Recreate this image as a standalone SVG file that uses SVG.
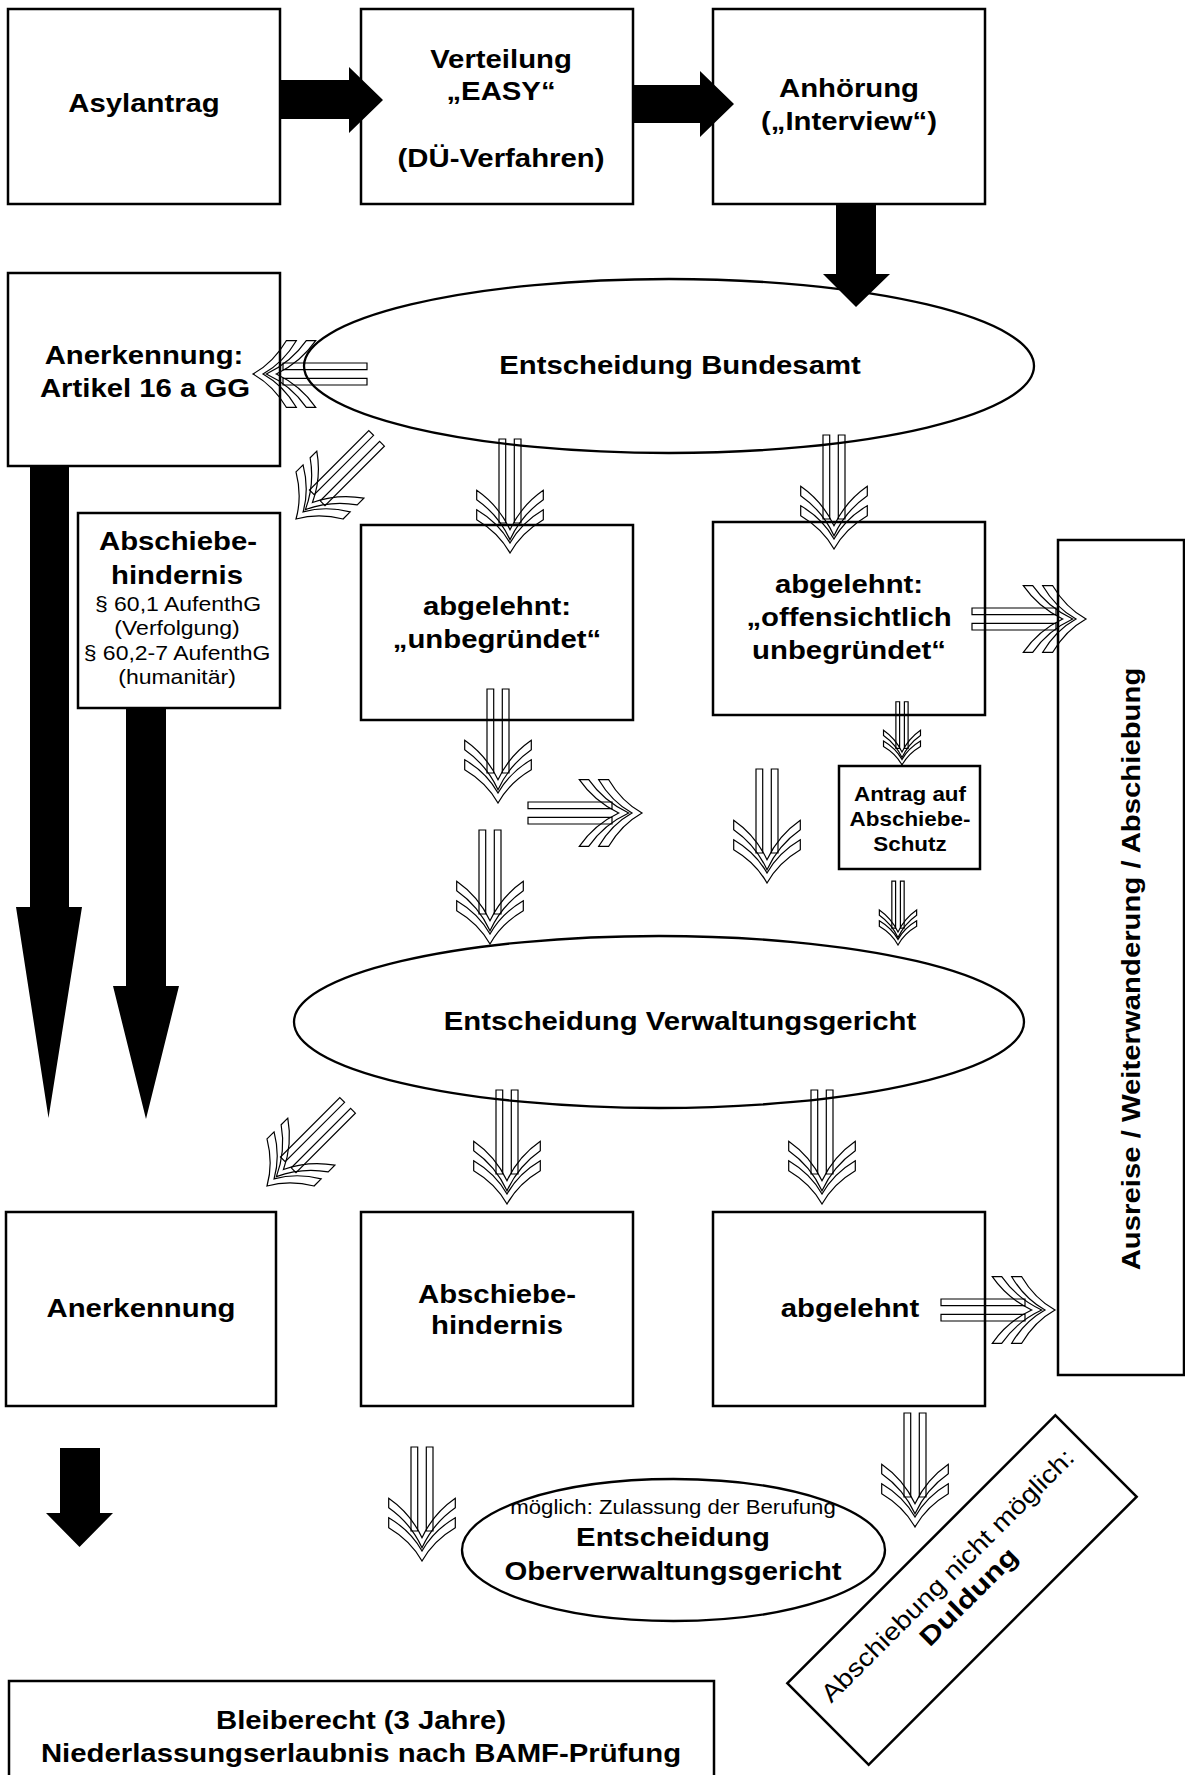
<svg xmlns="http://www.w3.org/2000/svg" xmlns:xlink="http://www.w3.org/1999/xlink" width="1185" height="1775" viewBox="0 0 1185 1775">
<style>
.box{fill:#fff;stroke:#000;stroke-width:2.5}
.ell{fill:none;stroke:#000;stroke-width:2.3}
.b{font-family:"Liberation Sans",Arial,sans-serif;font-weight:700;font-size:25.5px;text-anchor:middle;fill:#000}
.bs{font-family:"Liberation Sans",Arial,sans-serif;font-weight:700;font-size:19.5px;text-anchor:middle;fill:#000}
.r{font-family:"Liberation Sans",Arial,sans-serif;font-weight:400;font-size:20px;text-anchor:middle;fill:#000}
.solid{fill:#000;stroke:none}
.ha *{fill:none;stroke:#000;stroke-width:1.2;vector-effect:non-scaling-stroke}
</style>
<defs>
<g id="ha" class="ha">
<rect x="-11" y="-114" width="6.7" height="84"/>
<rect x="4.3" y="-114" width="6.7" height="84"/>
<path d="M-33.3,-43.3 L-33.3,-33.3 Q-11.4,-20.4 0,0 Q11.4,-20.4 33.3,-33.3 L33.3,-43.3 Q11.4,-30.4 0,-10 Q-11.4,-30.4 -33.3,-43.3Z"/>
<path d="M-33.3,-62.7 L-33.3,-53.3 Q-11.4,-38 0,-13.3 Q11.4,-38 33.3,-53.3 L33.3,-62.7 Q11.4,-47.5 0,-23.3 Q-11.4,-47.5 -33.3,-62.7Z"/>
</g>
</defs>
<rect width="1185" height="1775" fill="#fff"/>

<g id="n-asylantrag">
<rect class="box" x="8" y="9" width="272" height="195"/>
<text class="b" transform="matrix(1.15 0 0 1 144 112)">Asylantrag</text>
</g>
<g id="n-verteilung">
<rect class="box" x="361" y="9" width="272" height="195"/>
<text class="b" transform="matrix(1.15 0 0 1 501 68)">Verteilung</text>
<text class="b" transform="matrix(1.15 0 0 1 501 100)">„EASY“</text>
<text class="b" transform="matrix(1.15 0 0 1 501 167)">(DÜ-Verfahren)</text>
</g>
<g id="n-anhoerung">
<rect class="box" x="713" y="9" width="272" height="195"/>
<text class="b" transform="matrix(1.15 0 0 1 849 97)">Anhörung</text>
<text class="b" transform="matrix(1.15 0 0 1 849 130)">(„Interview“)</text>
</g>
<g id="n-bundesamt">
<ellipse class="ell" cx="669" cy="366" rx="365" ry="87"/>
<text class="b" transform="matrix(1.15 0 0 1 680 374)">Entscheidung Bundesamt</text>
</g>
<g id="n-anerkennung-gg">
<rect class="box" x="8" y="273" width="272" height="193"/>
<text class="b" transform="matrix(1.15 0 0 1 144 364)">Anerkennung:</text>
<text class="b" transform="matrix(1.15 0 0 1 145 397)">Artikel 16 a GG</text>
</g>
<g id="n-abschiebehindernis-1">
<rect class="box" x="78" y="513" width="202" height="195"/>
<text class="b" transform="matrix(1.15 0 0 1 178 550)">Abschiebe-</text>
<text class="b" transform="matrix(1.15 0 0 1 177 584)">hindernis</text>
<text class="r" transform="matrix(1.15 0 0 1 178 611)">§ 60,1 AufenthG</text>
<text class="r" transform="matrix(1.15 0 0 1 177 635)">(Verfolgung)</text>
<text class="r" transform="matrix(1.15 0 0 1 177 660)">§ 60,2-7 AufenthG</text>
<text class="r" transform="matrix(1.15 0 0 1 177 684)">(humanitär)</text>
</g>
<g id="n-unbegruendet">
<rect class="box" x="361" y="525" width="272" height="195"/>
<text class="b" transform="matrix(1.15 0 0 1 497 615)">abgelehnt:</text>
<text class="b" transform="matrix(1.15 0 0 1 497 648)">„unbegründet“</text>
</g>
<g id="n-offensichtlich">
<rect class="box" x="713" y="522" width="272" height="193"/>
<text class="b" transform="matrix(1.15 0 0 1 849 593)">abgelehnt:</text>
<text class="b" transform="matrix(1.15 0 0 1 849 626)">„offensichtlich</text>
<text class="b" transform="matrix(1.15 0 0 1 849 659)">unbegründet“</text>
</g>
<g id="n-ausreise">
<rect class="box" x="1058" y="540" width="126" height="835"/>
<text class="b" transform="translate(1140 969) rotate(-90) scale(1.15 1)">Ausreise / Weiterwanderung / Abschiebung</text>
</g>
<g id="n-antrag">
<rect class="box" x="839" y="766" width="141" height="103"/>
<text class="bs" transform="matrix(1.15 0 0 1 910 801)">Antrag auf</text>
<text class="bs" transform="matrix(1.15 0 0 1 910 826)">Abschiebe-</text>
<text class="bs" transform="matrix(1.15 0 0 1 910 851)">Schutz</text>
</g>
<g id="n-verwaltungsgericht">
<ellipse class="ell" cx="659" cy="1022" rx="365" ry="86"/>
<text class="b" transform="matrix(1.15 0 0 1 680 1030)">Entscheidung Verwaltungsgericht</text>
</g>
<g id="n-anerkennung">
<rect class="box" x="6" y="1212" width="270" height="194"/>
<text class="b" transform="matrix(1.15 0 0 1 141 1317)">Anerkennung</text>
</g>
<g id="n-abschiebehindernis-2">
<rect class="box" x="361" y="1212" width="272" height="194"/>
<text class="b" transform="matrix(1.15 0 0 1 497 1303)">Abschiebe-</text>
<text class="b" transform="matrix(1.15 0 0 1 497 1334)">hindernis</text>
</g>
<g id="n-abgelehnt">
<rect class="box" x="713" y="1212" width="272" height="194"/>
<text class="b" transform="matrix(1.15 0 0 1 850 1317)">abgelehnt</text>
</g>
<g id="n-ovg">
<ellipse class="ell" cx="673.5" cy="1550" rx="211.5" ry="71"/>
<text class="r" transform="matrix(1.11 0 0 1 673 1514)">möglich: Zulassung der Berufung</text>
<text class="b" transform="matrix(1.15 0 0 1 673 1546)">Entscheidung</text>
<text class="b" transform="matrix(1.15 0 0 1 673 1580)">Oberverwaltungsgericht</text>
</g>
<g id="n-bleiberecht">
<rect class="box" x="9" y="1681" width="705" height="110"/>
<text class="b" transform="matrix(1.15 0 0 1 361 1729)">Bleiberecht (3 Jahre)</text>
<text class="b" transform="matrix(1.15 0 0 1 361 1762)">Niederlassungserlaubnis nach BAMF-Prüfung</text>
</g>
<g id="n-duldung" transform="translate(962 1590) rotate(-45)">
<rect class="box" x="-189.5" y="-57.5" width="379" height="115"/>
<text class="r" style="font-size:25px" x="0" y="-12" textLength="346" lengthAdjust="spacingAndGlyphs">Abschiebung nicht möglich:</text>
<text class="b" x="0" y="18" textLength="127" lengthAdjust="spacingAndGlyphs">Duldung</text>
</g>

<g id="connectors">
<polygon class="solid" points="281,80 349,80 349,67 383,100 349,133 349,119 281,119"/>
<polygon class="solid" points="633,85 700,85 700,71 734,104 700,137 700,123 633,123"/>
<polygon class="solid" points="836,205 876,205 876,274 890,274 856,307 823,274 836,274"/>
<polygon class="solid" points="30,466 69,466 69,907 82,907 48.5,1118 16,907 30,907"/>
<polygon class="solid" points="126,708 166,708 166,986 179,986 146,1119 113,986 126,986"/>
<polygon class="solid" points="60,1448 100,1448 100,1513 113,1513 79.5,1547 46,1513 60,1513"/>

<use href="#ha" xlink:href="#ha" transform="translate(253 374) rotate(90)"/>
<use href="#ha" xlink:href="#ha" transform="translate(296 519) rotate(45)"/>
<use href="#ha" xlink:href="#ha" transform="translate(510 553)"/>
<use href="#ha" xlink:href="#ha" transform="translate(834 549)"/>
<use href="#ha" xlink:href="#ha" transform="translate(1086 619) rotate(-90)"/>
<use href="#ha" xlink:href="#ha" transform="translate(498 803)"/>
<use href="#ha" xlink:href="#ha" transform="translate(642 813) rotate(-90)"/>
<use href="#ha" xlink:href="#ha" transform="translate(490 944)"/>
<use href="#ha" xlink:href="#ha" transform="translate(767 883)"/>
<use href="#ha" xlink:href="#ha" transform="translate(902 765) scale(0.555)"/>
<use href="#ha" xlink:href="#ha" transform="translate(898 945) scale(0.56)"/>
<use href="#ha" xlink:href="#ha" transform="translate(267 1186) rotate(45)"/>
<use href="#ha" xlink:href="#ha" transform="translate(507 1204)"/>
<use href="#ha" xlink:href="#ha" transform="translate(822 1204)"/>
<use href="#ha" xlink:href="#ha" transform="translate(1055 1310) rotate(-90)"/>
<use href="#ha" xlink:href="#ha" transform="translate(422 1561)"/>
<use href="#ha" xlink:href="#ha" transform="translate(915 1527)"/>
</g>
</svg>
